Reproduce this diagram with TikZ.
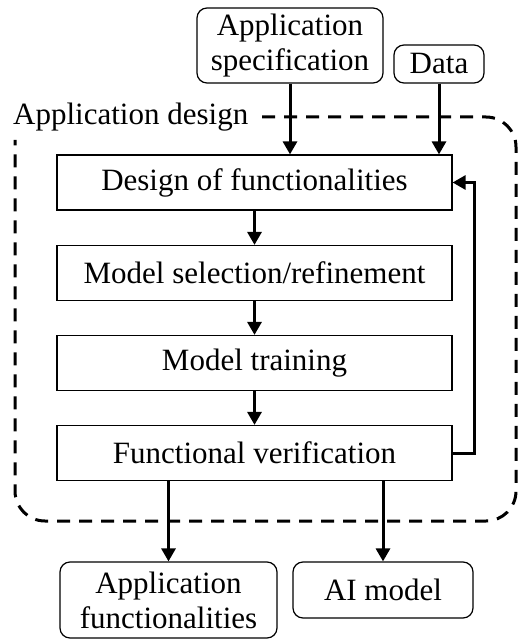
\documentclass[tikz,border=0pt]{standalone}
\usepackage{fontspec}
\setmainfont{Liberation Serif}
\usetikzlibrary{arrows.meta}
\begin{document}
\begin{tikzpicture}[x=1pt,y=-1pt,
  every node/.style={font=\fontsize{31}{35}\selectfont},
  stage/.style={draw, line width=1.2pt, minimum width=395pt, minimum height=55pt, inner sep=0pt},
  io/.style={draw, rounded corners=10pt, line width=1.2pt, align=center, inner sep=0pt},
  flow/.style={line width=3pt, -{Triangle[length=13pt,width=14pt]}},
  region/.style={dash pattern=on 13pt off 9pt, line width=3pt, rounded corners=30pt}]
  \useasboundingbox (0,0) rectangle (520,639);

  % dashed frame of the design phase and its title
  \draw[region] (262,117) -- (516,117) -- (516,521) -- (15,521) -- (15,140);
  \node[anchor=base west, inner sep=0pt] (title) at (13,125) {Application design};

  % inputs
  \node[io, minimum width=186pt, minimum height=75pt] (spec) at (290,45.5) {Application\\specification};
  \node[io, minimum width=90pt, minimum height=38pt] (data) at (439,64) {Data};

  % design stages
  \node[stage] (design) at (254.5,182.5) {Design of functionalities};
  \node[stage] (select) at (254.5,273) {Model selection/refinement};
  \node[stage] (train) at (254.5,363) {Model training};
  \node[stage] (verif) at (254.5,453) {Functional verification};

  % outputs
  \node[io, minimum width=217pt, minimum height=76pt] (appfun) at (168.5,600) {Application\\functionalities};
  \node[io, minimum width=180pt, minimum height=56pt] (aimodel) at (383,590) {AI model};

  % connectors
  \draw[flow] (spec.south) -- (spec.south |- design.north);
  \draw[flow] (data.south) -- (data.south |- design.north);
  \draw[flow] (design) -- (select);
  \draw[flow] (select) -- (train);
  \draw[flow] (train) -- (verif);
  \coordinate (loop) at (474,453);
  \draw[flow] (verif.east) -- (loop) |- (design.east);
  \draw[flow] (appfun.north |- verif.south) -- (appfun.north);
  \draw[flow] (aimodel.north |- verif.south) -- (aimodel.north);
\end{tikzpicture}
\end{document}
